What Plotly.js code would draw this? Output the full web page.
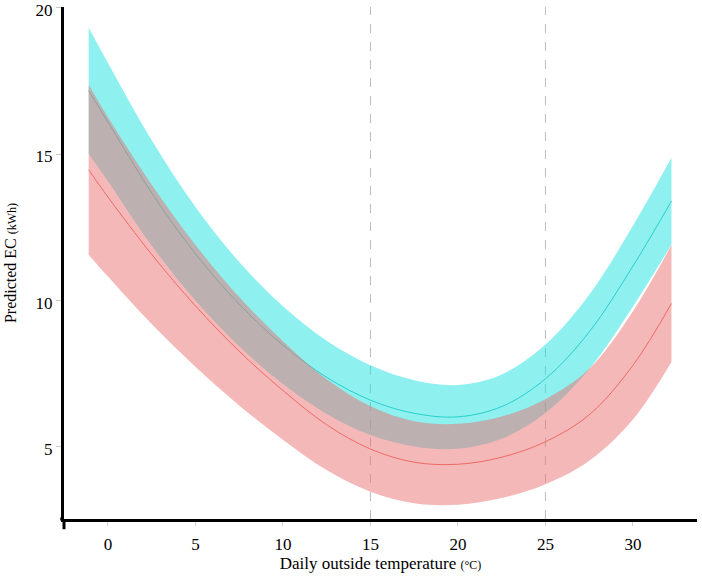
<!DOCTYPE html>
<html>
<head>
<meta charset="utf-8">
<script src="https://cdn.plot.ly/plotly-3.0.1.min.js"></script>
<style>
  html, body { margin: 0; padding: 0; background: #fff; }
  #chart { width: 702px; height: 576px; }
</style>
</head>
<body>
<div id="chart"></div>
<script>
// Daily outside temperature (°C)
const temperature = [-1.1, 0, 2.5, 5, 7.5, 10, 12.5, 15, 17.5, 20, 22.5, 25, 27.5, 30, 32.2];

// Cyan group: predicted EC (kWh) with confidence band
const cyanUpper = [19.32, 18.12, 15.48, 13.20, 11.32, 9.81, 8.63, 7.79, 7.28, 7.12, 7.48, 8.50, 10.20, 12.56, 14.88];
const cyanFit   = [17.17, 16.10, 13.68, 11.60, 9.88, 8.48, 7.38, 6.60, 6.15, 6.03, 6.38, 7.33, 8.93, 11.18, 13.40];
const cyanLower = [15.02, 14.08, 11.88, 10.00, 8.44, 7.15, 6.13, 5.41, 5.02, 4.94, 5.28, 6.16, 7.66, 9.80, 11.92];

// Red group: predicted EC (kWh) with confidence band
const redUpper = [17.37, 16.26, 13.96, 11.90, 10.12, 8.61, 7.31, 6.39, 5.88, 5.79, 6.04, 6.63, 7.67, 9.64, 11.90];
const redFit   = [14.47, 13.54, 11.58, 9.82, 8.27, 6.93, 5.76, 4.93, 4.48, 4.41, 4.65, 5.18, 6.10, 7.79, 9.90];
const redLower = [11.57, 10.82, 9.20, 7.74, 6.42, 5.25, 4.21, 3.47, 3.08, 3.03, 3.26, 3.73, 4.53, 5.94, 7.90];

// Reference temperatures (dashed lines)
const refTemps = [15, 25];

const xTicks = [0, 5, 10, 15, 20, 25, 30];
const yTicks = [5, 10, 15, 20];

const serif = '"Liberation Serif", "Times New Roman", serif';

function band(lower, upper, fillcolor) {
  return [
    { x: temperature, y: lower, mode: 'lines', line: { width: 0, shape: 'spline', smoothing: 1 },
      hoverinfo: 'skip', showlegend: false },
    { x: temperature, y: upper, mode: 'lines', line: { width: 0, shape: 'spline', smoothing: 1 },
      fill: 'tonexty', fillcolor: fillcolor, hoverinfo: 'skip', showlegend: false }
  ];
}

const data = [
  ...band(cyanLower, cyanUpper, 'rgba(29,225,223,0.5)'),
  { x: temperature, y: cyanFit, mode: 'lines', line: { color: '#27D0CD', width: 1, shape: 'spline', smoothing: 1 }, showlegend: false },
  ...band(redLower, redUpper, 'rgba(233,113,113,0.5)'),
  { x: temperature, y: redFit, mode: 'lines', line: { color: '#EE6A66', width: 1, shape: 'spline', smoothing: 1 }, showlegend: false }
];

const shapes = refTemps.map(t => ({
  type: 'line', xref: 'x', yref: 'paper', x0: t, x1: t, y0: 0, y1: 1,
  line: { color: '#bdbdbd', width: 1, dash: 'dash' }, layer: 'below'
}));
// small overhang of the axis lines past the corner
shapes.push({ type: 'line', xref: 'paper', yref: 'paper', x0: 0, x1: 0, y0: 0, y1: -0.02,
  line: { color: '#000', width: 3 } });
shapes.push({ type: 'line', xref: 'paper', yref: 'paper', x0: 0, x1: -0.006, y0: 0, y1: 0,
  line: { color: '#000', width: 3 } });

const layout = {
  width: 702, height: 576,
  margin: { l: 64, r: 5, t: 7, b: 57 },
  paper_bgcolor: '#fff', plot_bgcolor: '#fff',
  showlegend: false,
  font: { family: serif, color: '#000', size: 17 },
  xaxis: {
    range: [-2.51, 33.66],
    tickvals: xTicks, ticktext: xTicks.map(String),
    showgrid: false, zeroline: false,
    showline: true, linecolor: '#000', linewidth: 3,
    ticks: 'outside', ticklen: 4, tickcolor: '#d0d0d0', tickwidth: 1,
    tickfont: { family: serif, size: 17, color: '#000' },
    ticklabelstandoff: 4,
    ticklabeloverflow: 'allow',
    title: { text: 'Daily outside temperature <span style="font-size:12px">(°C)</span>',
             font: { family: serif, size: 17, color: '#000' }, standoff: 4 },
    automargin: false
  },
  yaxis: {
    range: [2.54, 20.03],
    tickvals: yTicks, ticktext: yTicks.map(String),
    showgrid: false, zeroline: false,
    showline: true, linecolor: '#000', linewidth: 3,
    ticks: 'outside', ticklen: 5, tickcolor: '#c8c8c8', tickwidth: 1,
    tickfont: { family: serif, size: 17, color: '#000' },
    ticklabelshift: 2,
    ticklabeloverflow: 'allow',
    title: { text: 'Predicted EC <span style="font-size:12px">(kWh)</span>',
             font: { family: serif, size: 16, color: '#000' }, standoff: 15 },
    automargin: false
  },
  shapes: shapes
};

Plotly.newPlot('chart', data, layout, { displayModeBar: false, staticPlot: true });
</script>
</body>
</html>
